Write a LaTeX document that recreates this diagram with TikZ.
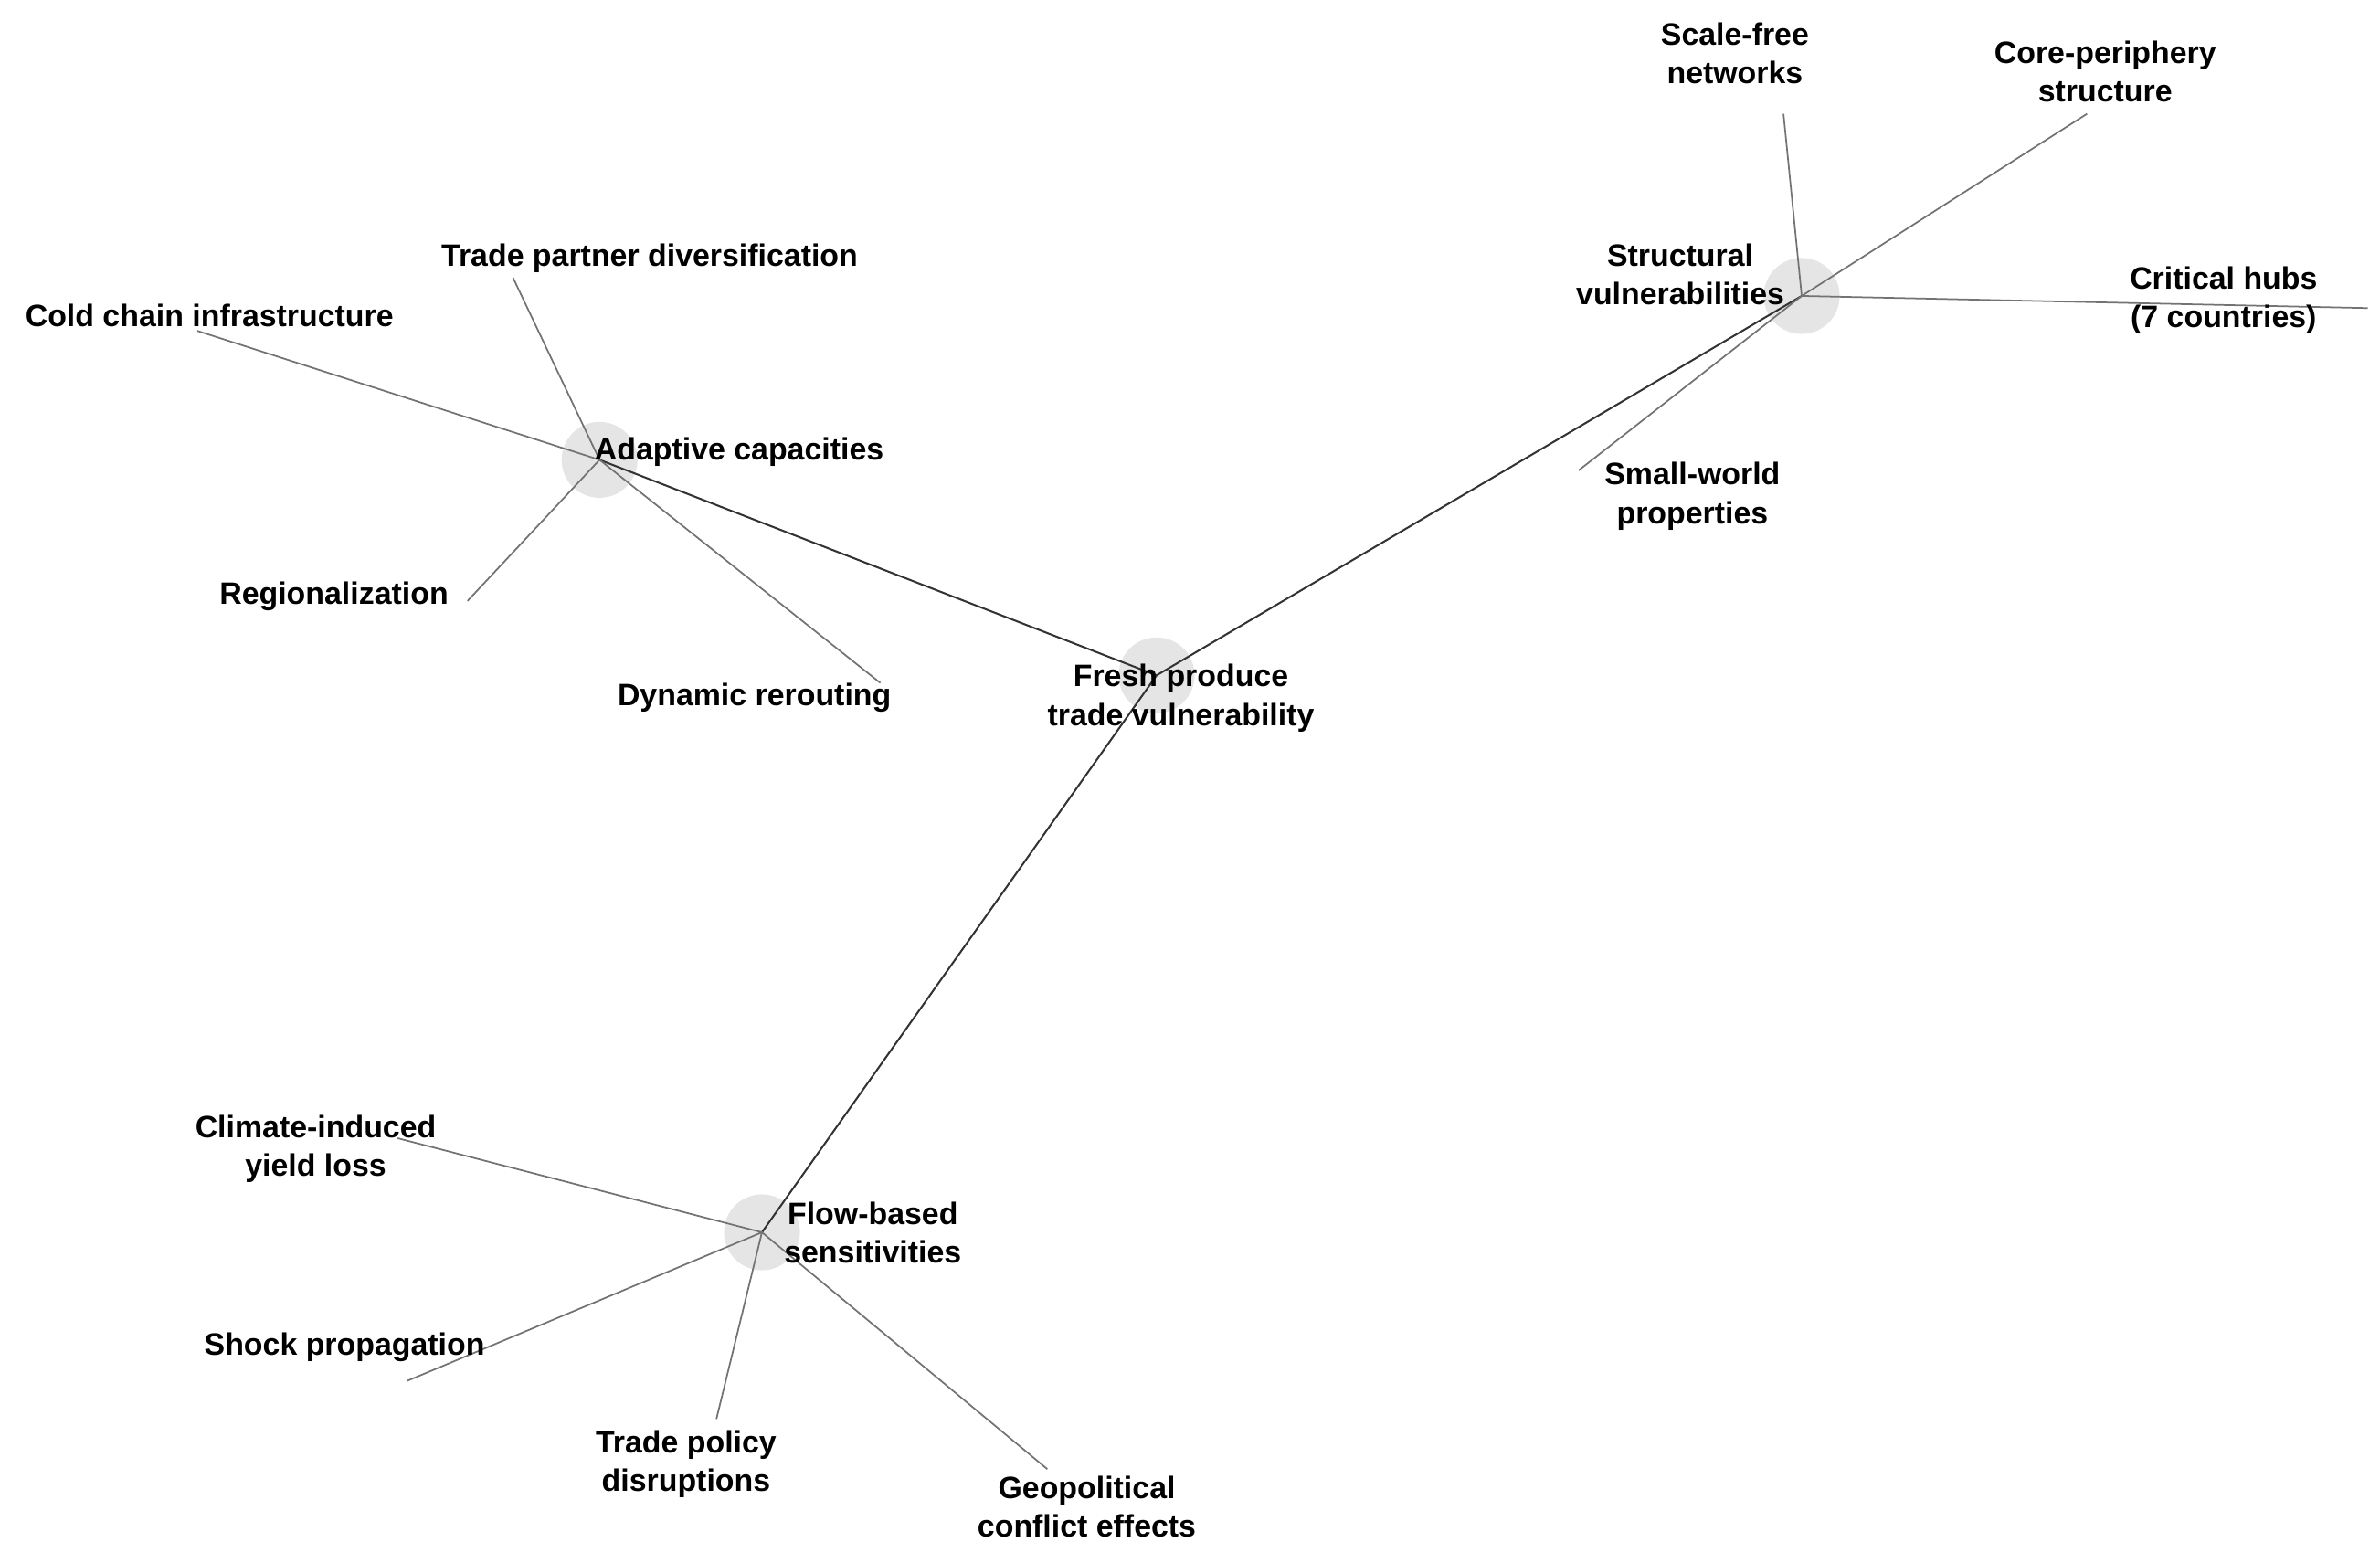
\documentclass[tikz,border=0pt]{standalone}
\usepackage{fontspec}
\setmainfont{Liberation Sans}
\begin{document}
\begin{tikzpicture}[x=0.01cm,y=-0.01cm,
  hub/.style={circle,fill=black!10,minimum size=0.5cm,inner sep=0pt},
  lab/.style={font=\fontsize{5.8}{7.2}\selectfont\bfseries,align=center,inner sep=0pt},
  edge/.style={draw=black!80,line width=0.35pt},
  leaf/.style={draw=black!55,line width=0.3pt}]
\useasboundingbox (0,0) rectangle (1568,1029.3);
\node[hub] (c) at (762,445) {};
\node[hub] (a) at (395,303) {};
\node[hub] (s) at (1187,195) {};
\node[hub] (f) at (502,812) {};
\coordinate (e1) at (338,183);
\coordinate (e2) at (130,218);
\coordinate (e3) at (308,396);
\coordinate (e4) at (580,450);
\coordinate (e5) at (1175,75);
\coordinate (e6) at (1375,75);
\coordinate (e7) at (1560,203);
\coordinate (e8) at (1040,310);
\coordinate (e9) at (262,750);
\coordinate (e10) at (268,910);
\coordinate (e11) at (472,935);
\coordinate (e12) at (690,968);
\draw[edge] (a.center)--(c.center) (s.center)--(c.center) (f.center)--(c.center);
\draw[leaf] (a.center)--(e1) (a.center)--(e2) (a.center)--(e3) (a.center)--(e4);
\draw[leaf] (s.center)--(e5) (s.center)--(e6) (s.center)--(e7) (s.center)--(e8);
\draw[leaf] (f.center)--(e9) (f.center)--(e10) (f.center)--(e11) (f.center)--(e12);
\node[lab] (lc) at (778,460) {Fresh produce\\trade vulnerability};
\node[lab] (la) at (487,298) {Adaptive capacities};
\node[lab] (ls) at (1107,181) {Structural\\vulnerabilities};
\node[lab] (lf) at (575,812) {Flow-based\\sensitivities};
\node[lab] at (428,170) {Trade partner diversification};
\node[lab] at (138,208) {Cold chain infrastructure};
\node[lab] at (220,393) {Regionalization};
\node[lab] at (497,460) {Dynamic rerouting};
\node[lab] at (1143,35) {Scale-free\\networks};
\node[lab] at (1387,47) {Core-periphery\\structure};
\node[lab] at (1465,198) {Critical hubs\\(7 countries)};
\node[lab] at (1115,327) {Small-world\\properties};
\node[lab] at (208,757) {Climate-induced\\yield loss};
\node[lab] at (227,888) {Shock propagation};
\node[lab] at (452,965) {Trade policy\\disruptions};
\node[lab] at (716,993) {Geopolitical\\conflict effects};
\end{tikzpicture}
\end{document}
